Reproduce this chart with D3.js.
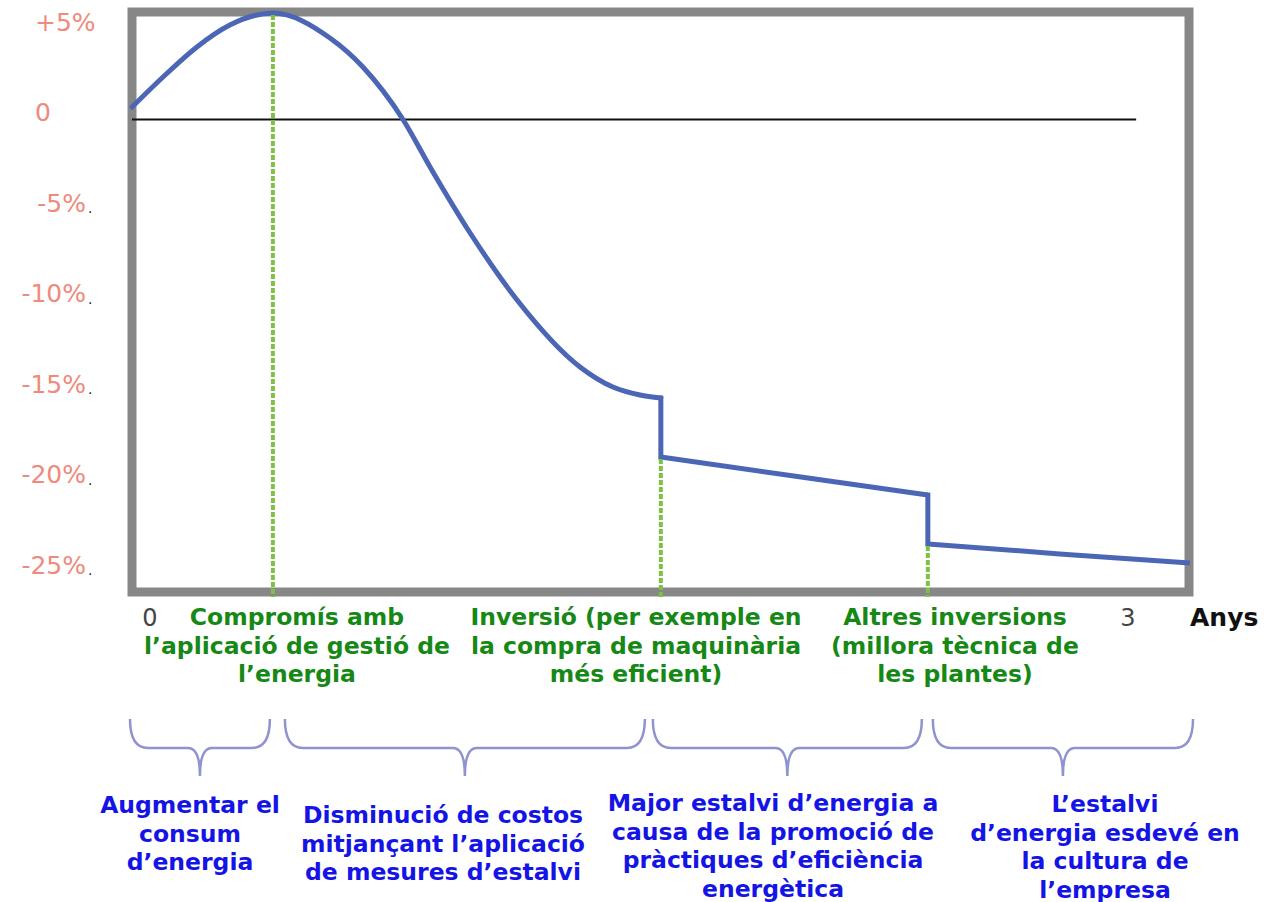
<!DOCTYPE html>
<html>
<head>
<meta charset="utf-8">
<script src="https://cdn.jsdelivr.net/npm/d3@7"></script>
<style>
  html, body { margin: 0; padding: 0; background: #fff; }
  svg { display: block; }
</style>
</head>
<body>
<svg id="chart" width="1269" height="902"></svg>
<script>
// Energy consumption change (%) over time after starting an energy management programme

// Phase 1: adoption of energy management (smooth rise then fall)
const phase1Years  = [-0.055, 0.04, 0.144, 0.245, 0.377, 0.552, 0.653, 0.776, 0.859, 0.982, 1.126, 1.319, 1.42, 1.503, 1.567];
const phase1Values = [0.69, 2.35, 4.01, 5.22, 5.88, 4.5, 2.9, 0.0, -2.62, -6.27, -9.97, -13.67, -14.78, -15.22, -15.39];

// Phase 2: after the investment in more efficient machinery
const phase2Years  = [1.567, 1.975, 2.386];
const phase2Values = [-18.65, -19.7, -20.75];

// Phase 3: after further investments in the plants
const phase3Years  = [2.386, 2.79, 3.19];
const phase3Values = [-23.45, -24.0, -24.5];

// Y axis ticks
const yTickValues = [5, 0, -5, -10, -15, -20, -25];
const yTickLabels = ["+5%", "0", "-5%", "-10%", "-15%", "-20%", "-25%"];

// X axis ticks
const xTickValues = [0, 3];
const xTickLabels = ["0", "3"];
const xAxisTitle = "Anys";

// Milestone annotations (green)
const milestoneLabels = [
  ["Compromís amb", "l’aplicació de gestió de", "l’energia"],
  ["Inversió (per exemple en", "la compra de maquinària", "més eficient)"],
  ["Altres inversions", "(millora tècnica de", "les plantes)"]
];

// Phase descriptions under the braces (blue)
const phaseLabels = [
  ["Augmentar el", "consum", "d’energia"],
  ["Disminució de costos", "mitjançant l’aplicació", "de mesures d’estalvi"],
  ["Major estalvi d’energia a", "causa de la promoció de", "pràctiques d’eficiència", "energètica"],
  ["L’estalvi", "d’energia esdevé en", "la cultura de", "l’empresa"]
];

const svg = d3.select("#chart");

// Scales
const x = d3.scaleLinear().domain([0, 3]).range([150, 1128]);
const y = d3.scaleLinear().domain([-25, 5]).range([572, 29]);

// Plot frame bounds (stroke centre lines)
const frame = { left: 132, top: 12, right: 1189, bottom: 592 };

const FONT = "'DejaVu Sans', Verdana, sans-serif";
const LINE_COLOR = "#4c66b6";

// Frame
svg.append("rect")
  .attr("x", frame.left).attr("y", frame.top)
  .attr("width", frame.right - frame.left)
  .attr("height", frame.bottom - frame.top)
  .attr("fill", "none")
  .attr("stroke", "#878787")
  .attr("stroke-width", 9);

// Zero reference line
svg.append("line")
  .attr("x1", frame.left).attr("x2", x(3.025))
  .attr("y1", y(0)).attr("y2", y(0))
  .attr("stroke", "#111")
  .attr("stroke-width", 2);

// Y tick labels
const yLab = svg.append("g").attr("class", "y-labels")
  .attr("font-family", FONT)
  .attr("font-size", 25)
  .attr("fill", "#ef8a7c");

yTickValues.forEach((v, i) => {
  const t = yLab.append("text").attr("y", y(v) + 1.5);
  if (v >= 0) {
    t.attr("x", 35).attr("text-anchor", "start").text(yTickLabels[i]);
  } else {
    t.attr("x", 86).attr("text-anchor", "end").text(yTickLabels[i]);
    yLab.append("text")
      .attr("x", 88).attr("y", y(v) + 3)
      .attr("font-size", 14)
      .attr("fill", "#222")
      .text(".");
  }
});

// Milestone positions and tops derived from the series
const milestones = [
  { year: phase1Years[phase1Values.indexOf(d3.max(phase1Values))], value: d3.max(phase1Values) },
  { year: phase2Years[0], value: phase2Values[0] },
  { year: phase3Years[0], value: phase3Values[0] }
];

// Series line
const pts1 = phase1Years.map((t, i) => [t, phase1Values[i]]);
const pts2 = phase2Years.map((t, i) => [t, phase2Values[i]]);
const pts3 = phase3Years.map((t, i) => [t, phase3Values[i]]);

const smooth = d3.line().x(d => x(d[0])).y(d => y(d[1])).curve(d3.curveMonotoneX);
const straight = d3.line().x(d => x(d[0])).y(d => y(d[1]));

svg.append("path")
  .attr("d", smooth(pts1))
  .attr("fill", "none")
  .attr("stroke", LINE_COLOR)
  .attr("stroke-width", 5)
  .attr("stroke-linejoin", "round")
  .attr("stroke-linecap", "round");

// Drops and later phases
[[pts1[pts1.length - 1], pts2[0]], [pts2[pts2.length - 1], pts3[0]]].forEach(seg => {
  svg.append("path").attr("d", straight(seg))
    .attr("fill", "none").attr("stroke", LINE_COLOR).attr("stroke-width", 5)
    .attr("stroke-linecap", "square");
});
[pts2, pts3].forEach(p => {
  svg.append("path").attr("d", smooth(p))
    .attr("fill", "none").attr("stroke", LINE_COLOR).attr("stroke-width", 5)
    .attr("stroke-linejoin", "round");
});

// Milestone dashed lines
svg.append("g").selectAll("line")
  .data(milestones)
  .join("line")
  .attr("x1", d => x(d.year)).attr("x2", d => x(d.year))
  .attr("y1", d => y(d.value) + 2).attr("y2", frame.bottom + 5)
  .attr("stroke", "#7dc243")
  .attr("stroke-width", 4)
  .attr("stroke-dasharray", "5,2");

// X tick labels
svg.append("g")
  .attr("font-family", FONT)
  .attr("font-size", 24)
  .attr("fill", "#444")
  .selectAll("text")
  .data(xTickValues)
  .join("text")
  .attr("x", d => x(d))
  .attr("y", 626)
  .attr("text-anchor", "middle")
  .text((d, i) => xTickLabels[i]);

svg.append("text")
  .attr("x", 1190).attr("y", 626)
  .attr("font-family", FONT)
  .attr("font-size", 25)
  .attr("font-weight", "bold")
  .attr("fill", "#111")
  .text(xAxisTitle);

// Milestone labels
const msCenters = [297, 636, 955];
milestoneLabels.forEach((lines, i) => {
  const t = svg.append("text")
    .attr("font-family", FONT)
    .attr("font-size", 23.5)
    .attr("font-weight", "bold")
    .attr("fill", "#168816")
    .attr("text-anchor", "middle");
  lines.forEach((ln, j) => {
    t.append("tspan").attr("x", msCenters[i]).attr("y", 625 + j * 28.5).text(ln);
  });
});

// Braces spanning each phase
const bounds = [frame.left - 2, x(milestones[0].year), x(milestones[1].year), x(milestones[2].year), frame.right + 4];
const braceTop = 719, braceMid = 748, braceTip = 776;
function bracePath(x0, x1) {
  const xc = (x0 + x1) / 2, r = 12;
  return `M${x0},${braceTop} Q${x0},${braceMid} ${x0 + r * 1.5},${braceMid}` +
         ` L${xc - r},${braceMid} Q${xc},${braceMid} ${xc},${braceTip}` +
         ` Q${xc},${braceMid} ${xc + r},${braceMid}` +
         ` L${x1 - r * 1.5},${braceMid} Q${x1},${braceMid} ${x1},${braceTop}`;
}
const braceInset = [[0, -3], [12, -16], [-8, -6], [5, 0]];
svg.append("g").selectAll("path")
  .data(d3.range(4))
  .join("path")
  .attr("d", i => bracePath(bounds[i] + braceInset[i][0], bounds[i + 1] + braceInset[i][1]))
  .attr("fill", "none")
  .attr("stroke", "#8f93cf")
  .attr("stroke-width", 2.5);

// Phase descriptions
const phCenters = [190, 443, 773, 1105];
const phTop = [813, 823, 811, 812];
phaseLabels.forEach((lines, i) => {
  const t = svg.append("text")
    .attr("font-family", FONT)
    .attr("font-size", 23.5)
    .attr("font-weight", "bold")
    .attr("fill", "#1414e6")
    .attr("text-anchor", "middle");
  lines.forEach((ln, j) => {
    t.append("tspan").attr("x", phCenters[i]).attr("y", phTop[i] + j * 28.6).text(ln);
  });
});
</script>
</body>
</html>
